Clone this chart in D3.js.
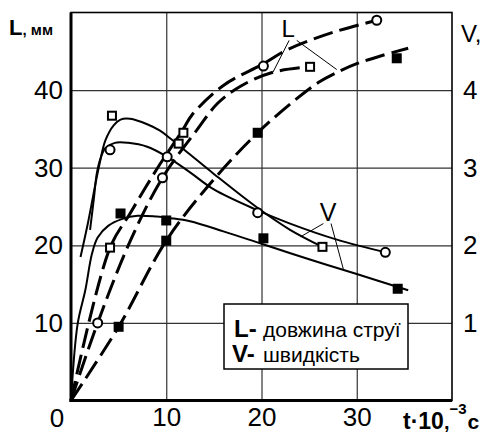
<!DOCTYPE html>
<html><head><meta charset="utf-8">
<script src="https://cdn.jsdelivr.net/npm/d3@7"></script>
<style>html,body{margin:0;padding:0;background:#fff;} svg{display:block;font-family:"Liberation Sans",Arial,sans-serif;}</style>
</head><body><svg id="c" width="484" height="434"></svg>
<script>
// ---- data (t in 10^-3 s, L in mm, V in right-axis units) ----
const tGrid = [10, 20, 30];
const lTicks = [10, 20, 30, 40];
const vTicks = [1, 2, 3, 4];

// L (jet length) curves, dashed
const lCurveA = [[0,0],[2.8,10],[6.2,20.5],[9.6,28.7],[13.3,35],[15.4,38.3],[17.8,40.5],[21.2,42.3],[25.1,43]];
const lCurveB = [[0,0],[4.1,19.7],[6.2,24.1],[9,29.8],[11.8,35],[12.7,36.8],[16,40.6],[20.2,43.4],[22.7,45.2],[27.4,47.4],[32.1,49]];
const lCurveFilled = [[0,0],[5,9.5],[10,20.6],[15,28.5],[19.6,34.5],[23.7,38.9],[26,41],[28.3,42.5],[30,43.4],[32.5,44.4],[35.4,45.4]];

// V (speed) curves, solid
const vCurveSquare = [[1.0,1.85],[1.8,2.3],[2.5,2.75],[3.0,3.05],[3.6,3.35],[4.5,3.55],[5.2,3.62],[6.2,3.63],[8,3.56],[9.3,3.48],[10.4,3.38],[12.5,3.17],[15,2.92],[19.5,2.49],[23,2.2],[26.4,1.98]];
const vCurveCircle = [[2.0,2.2],[2.4,2.6],[2.7,2.92],[3.1,3.12],[3.6,3.25],[4.6,3.32],[6,3.32],[8,3.27],[10.1,3.14],[12.5,2.94],[15,2.72],[19.6,2.45],[23,2.28],[28,2.07],[33,1.91]];
const vCurveFilled = [[0,0],[0.7,0.99],[1.5,1.42],[2.2,1.89],[2.8,2.1],[3.9,2.25],[5.4,2.34],[7,2.38],[9,2.37],[10.5,2.35],[12.5,2.31],[16,2.18],[20,2.02],[25,1.82],[30,1.63],[35.4,1.42]];

// measured points
const lOpenCircle = [[2.8,10],[9.6,28.7],[20.2,43.1],[32.1,49]];
const lOpenSquare = [[4.1,19.7],[11.8,34.5],[25.1,43]];
const lFilledSquare = [[5,9.5],[10,20.6],[19.6,34.5],[34.2,44.1]];
const vOpenCircle = [[4.1,3.23],[10.1,3.14],[19.6,2.42],[33,1.91]];
const vOpenSquare = [[4.3,3.67],[11.3,3.31],[26.4,1.98]];
const vFilledSquare = [[5.2,2.41],[10,2.32],[20.2,2.09],[34.3,1.44]];

// annotation anchors (data units)
const lLabel = [22.8, 46.8];
const lLeaders = [[[22.9,46.4],[21.2,42.3]], [[23.7,46.4],[27.9,42.65]]];
const vLabel = [27.0, 2.31];
const vLeaders = [[[26.5,2.28],[24.1,2.11]], [[27.3,2.28],[28.6,1.69]]];

// ---- drawing ----
const svg = d3.select("#c");
const x = d3.scaleLinear([0, 40], [71, 452]);
const yL = d3.scaleLinear([0, 50], [400.5, 12.5]);
const yV = d3.scaleLinear([0, 5], [400.5, 12.5]);
const FONT = '"Liberation Sans",Arial,sans-serif';

// grid
const gx = svg.append("g").attr("transform", `translate(0,${yL(0)})`)
  .call(d3.axisBottom(x).tickValues(tGrid).tickSize(-(yL(0) - yL(50))).tickFormat(""));
gx.select(".domain").remove();
gx.selectAll("line").attr("stroke", "#333").attr("stroke-width", 1.2);
const gy = svg.append("g").attr("transform", `translate(${x(0)},0)`)
  .call(d3.axisLeft(yL).tickValues(lTicks).tickSize(-(x(40) - x(0))).tickFormat(""));
gy.select(".domain").remove();
gy.selectAll("line").attr("stroke", "#333").attr("stroke-width", 1.2);

// frame
svg.append("rect").attr("x", x(0)).attr("y", yL(50)).attr("width", x(40) - x(0)).attr("height", yL(0) - yL(50))
  .attr("fill", "none").attr("stroke", "#000").attr("stroke-width", 1.6);
svg.append("line").attr("x1", x(0)).attr("x2", x(0)).attr("y1", yL(50)).attr("y2", yL(0) + 1.5).attr("stroke", "#000").attr("stroke-width", 3);
svg.append("line").attr("x1", x(0) - 1.5).attr("x2", x(40)).attr("y1", yL(0)).attr("y2", yL(0)).attr("stroke", "#000").attr("stroke-width", 3);

// axis labels
const ax = svg.append("g").attr("transform", `translate(0,${yL(0)})`)
  .call(d3.axisBottom(x).tickValues(tGrid).tickSize(0).tickPadding(7).tickFormat(d3.format("d")));
ax.select(".domain").remove();
ax.attr("font-size", 26).attr("font-family", FONT);
ax.selectAll("text").attr("fill", "#000");
svg.append("text").attr("x", x(0) - 14).attr("y", yL(0) + 26).attr("text-anchor", "middle")
  .attr("font-size", 26).text("0");

const al = svg.append("g").attr("transform", `translate(${x(0)},0)`)
  .call(d3.axisLeft(yL).tickValues(lTicks).tickSize(0).tickPadding(8).tickFormat(d3.format("d")));
al.select(".domain").remove();
al.attr("font-size", 26).attr("font-family", FONT);
al.selectAll("text").attr("fill", "#000");

const ar = svg.append("g").attr("transform", `translate(${x(40)},0)`)
  .call(d3.axisRight(yV).tickValues(vTicks).tickSize(0).tickPadding(11).tickFormat(d3.format("d")));
ar.select(".domain").remove();
ar.attr("font-size", 26).attr("font-family", FONT);
ar.selectAll("text").attr("fill", "#000");

// axis titles
const tl = svg.append("text").attr("x", 9).attr("y", 35).attr("font-weight", "bold");
tl.append("tspan").attr("font-size", 22).text("L");
tl.append("tspan").attr("font-size", 15).text(", мм");
svg.append("text").attr("x", 461).attr("y", 42).attr("font-size", 24).text("V,");
const tx = svg.append("text").attr("x", 403).attr("y", 429).attr("font-weight", "bold");
tx.append("tspan").attr("font-size", 23).text("t·10");
tx.append("tspan").attr("font-size", 20).text(",");
tx.append("tspan").attr("font-size", 15).attr("dy", -15).text("−3");
tx.append("tspan").attr("font-size", 21).attr("dx", 1).attr("dy", 15).text("c");

// curves
const lineL = d3.line().x(d => x(d[0])).y(d => yL(d[1])).curve(d3.curveCatmullRom.alpha(0.5));
const lineV = d3.line().x(d => x(d[0])).y(d => yV(d[1])).curve(d3.curveCatmullRom.alpha(0.5));
[lCurveA, lCurveB, lCurveFilled].forEach(c => {
  svg.append("path").attr("d", lineL(c)).attr("fill", "none").attr("stroke", "#000")
    .attr("stroke-width", 3).attr("stroke-dasharray", "20,7");
});
[vCurveSquare, vCurveCircle, vCurveFilled].forEach(c => {
  svg.append("path").attr("d", lineV(c)).attr("fill", "none").attr("stroke", "#000").attr("stroke-width", 2);
});

// markers
function squares(data, yS, filled) {
  const s = filled ? 10 : 8;
  svg.append("g").selectAll("rect").data(data).join("rect")
    .attr("x", d => x(d[0]) - s / 2).attr("y", d => yS(d[1]) - s / 2)
    .attr("width", s).attr("height", s)
    .attr("fill", filled ? "#000" : "#fff").attr("stroke", "#000").attr("stroke-width", filled ? 0 : 2);
}
function circles(data, yS) {
  svg.append("g").selectAll("circle").data(data).join("circle")
    .attr("cx", d => x(d[0])).attr("cy", d => yS(d[1])).attr("r", 4.5)
    .attr("fill", "#fff").attr("stroke", "#000").attr("stroke-width", 2);
}
squares(lOpenSquare, yL, false); squares(vOpenSquare, yV, false);
squares(lFilledSquare, yL, true); squares(vFilledSquare, yV, true);
circles(lOpenCircle, yL); circles(vOpenCircle, yV);

// annotations
svg.append("text").attr("x", x(lLabel[0])).attr("y", yL(lLabel[1])).attr("text-anchor", "middle")
  .attr("font-size", 24).text("L");
lLeaders.forEach(s => svg.append("line").attr("x1", x(s[0][0])).attr("y1", yL(s[0][1]))
  .attr("x2", x(s[1][0])).attr("y2", yL(s[1][1])).attr("stroke", "#000").attr("stroke-width", 1));
svg.append("text").attr("x", x(vLabel[0])).attr("y", yV(vLabel[1])).attr("text-anchor", "middle")
  .attr("font-size", 25).text("V");
vLeaders.forEach(s => svg.append("line").attr("x1", x(s[0][0])).attr("y1", yV(s[0][1]))
  .attr("x2", x(s[1][0])).attr("y2", yV(s[1][1])).attr("stroke", "#000").attr("stroke-width", 1));

// legend
const lg = svg.append("g");
lg.append("rect").attr("x", 224).attr("y", 304).attr("width", 184).attr("height", 65)
  .attr("fill", "#fff").attr("stroke", "#000").attr("stroke-width", 1.5);
lg.append("text").attr("x", 234).attr("y", 337).attr("font-size", 24).attr("font-weight", "bold").text("L-");
lg.append("text").attr("x", 263).attr("y", 337).attr("font-size", 21).text("довжина струї");
lg.append("text").attr("x", 232).attr("y", 362).attr("font-size", 24).attr("font-weight", "bold").text("V-");
lg.append("text").attr("x", 263).attr("y", 362).attr("font-size", 21).text("швидкість");
</script></body></html>
